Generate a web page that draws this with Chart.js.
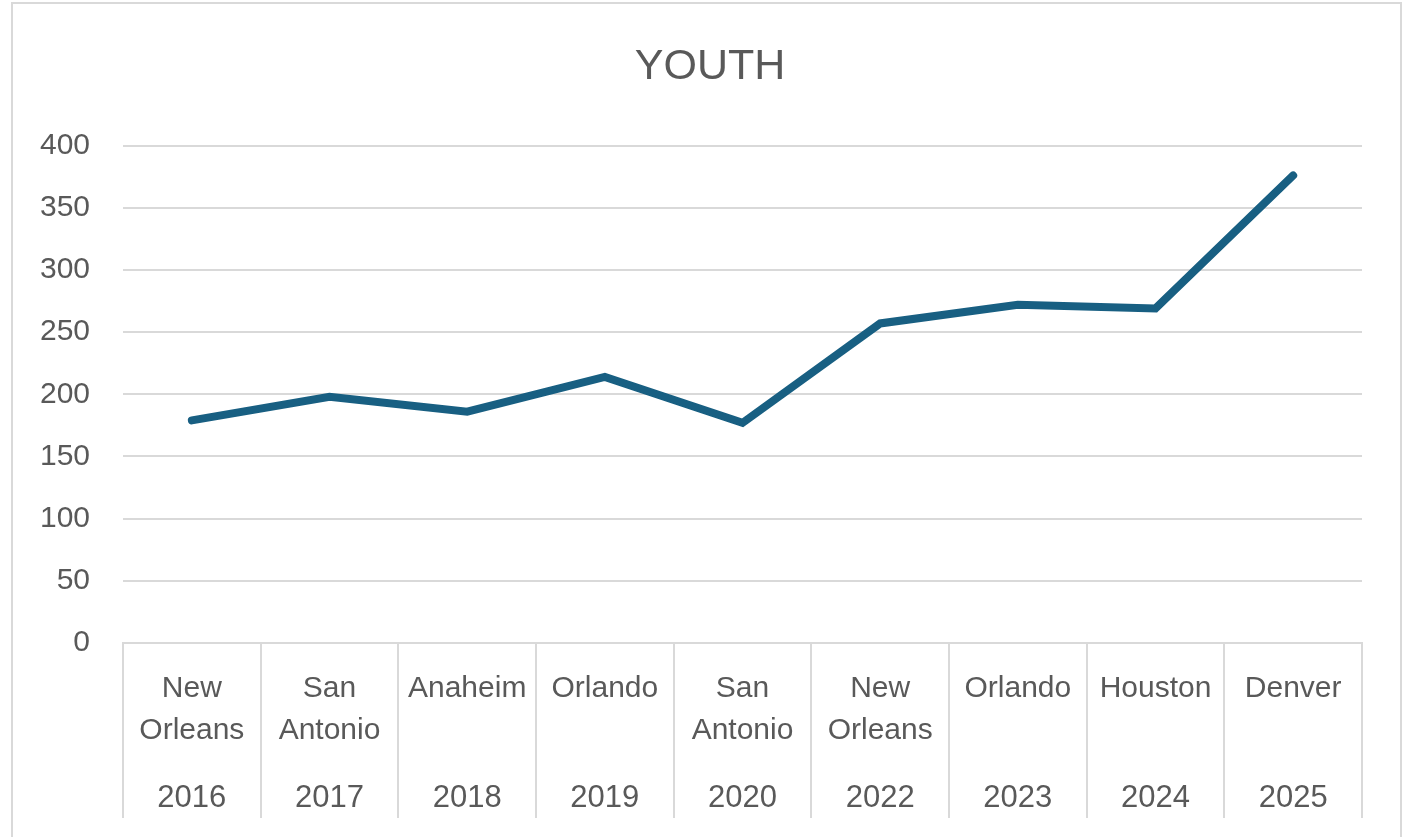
<!DOCTYPE html>
<html>
<head>
<meta charset="utf-8">
<title>YOUTH</title>
<script src="https://cdn.jsdelivr.net/npm/chart.js@4/dist/chart.umd.min.js"></script>
<style>
  html, body { margin: 0; padding: 0; background: #fff; overflow: hidden; }
  #frame {
    position: absolute; left: 11px; top: 2px; width: 1391px; height: 900px;
    border: 2px solid #d9d9d9; box-sizing: border-box;
  }
  #youthChart { position: absolute; left: 0; top: 0; }
</style>
</head>
<body>
<div id="frame"></div>
<canvas id="youthChart" width="1414" height="837"></canvas>
<script>
"use strict";

// 데이터
const cities = ['New Orleans', 'San Antonio', 'Anaheim', 'Orlando', 'San Antonio', 'New Orleans', 'Orlando', 'Houston', 'Denver'];
const years = ['2016', '2017', '2018', '2019', '2020', '2022', '2023', '2024', '2025'];
const youth = [179, 198, 186, 214, 177, 257, 272, 269, 376];
const yTicks = [0, 50, 100, 150, 200, 250, 300, 350, 400];

const textColor = '#595959';
const lineGray = '#d9d9d9';
const fontName = "'Liberation Sans', Arial, sans-serif";

// 도시 이름은 두 줄로
const cityLabels = cities.map(c => c.split(' '));

// y축 글자가 잘리지 않게 왼쪽 영역을 넓힘 (제목 위치는 그대로)
const widenYLabels = {
  id: 'widenYLabels',
  afterLayout(chart) {
    const y = chart.scales.y;
    y.left = 20;
    y.width = y.right - y.left;
  }
};

const data = {
  labels: cityLabels,
  datasets: [{
    label: 'YOUTH',
    data: youth,
    xAxisID: 'x',
    borderColor: '#185f82',
    backgroundColor: '#185f82',
    borderWidth: 8,
    borderCapStyle: 'round',
    borderJoinStyle: 'miter',
    pointRadius: 0,
    tension: 0,
    fill: false
  }]
};

const config = {
  type: 'line',
  data,
  plugins: [widenYLabels],
  options: {
    responsive: false,
    animation: false,
    layout: { padding: { left: 58, right: 52, top: 0, bottom: 19 } },
    plugins: {
      legend: { display: false },
      tooltip: { enabled: false },
      title: {
        display: true,
        text: 'YOUTH',
        color: textColor,
        font: { family: fontName, size: 43, weight: 'normal', lineHeight: 1.2 },
        padding: { top: 41, bottom: 53 }
      }
    },
    scales: {
      y: {
        min: 0,
        max: 400,
        afterBuildTicks: scale => { scale.ticks = yTicks.map(v => ({ value: v })); },
        afterFit: scale => { scale.width = 65; },
        ticks: {
          color: textColor,
          padding: 33,
          font: { family: fontName, size: 30 }
        },
        grid: { color: lineGray, lineWidth: 2, drawTicks: false },
        border: { display: false }
      },
      x: {
        type: 'category',
        offset: true,
        weight: 0,
        afterFit: scale => { scale.height = 112; },
        ticks: {
          color: textColor,
          padding: -87,
          maxRotation: 0,
          autoSkip: false,
          font: { family: fontName, size: 30, lineHeight: 1.4 }
        },
        grid: {
          offset: true,
          drawOnChartArea: false,
          drawTicks: true,
          tickLength: 112,
          color: lineGray,
          lineWidth: 2
        },
        border: { display: true, color: lineGray, width: 2 }
      },
      x2: {
        type: 'category',
        position: 'bottom',
        labels: years,
        offset: true,
        weight: 1,
        afterFit: scale => { scale.height = 63; },
        ticks: {
          color: textColor,
          padding: -41,
          maxRotation: 0,
          autoSkip: false,
          font: { family: fontName, size: 31, lineHeight: 1.4 }
        },
        grid: {
          offset: true,
          drawOnChartArea: false,
          drawTicks: true,
          tickLength: 63,
          color: lineGray,
          lineWidth: 2
        },
        border: { display: false }
      }
    }
  }
};

const myChart = new Chart(document.getElementById('youthChart'), config);
</script>
</body>
</html>
